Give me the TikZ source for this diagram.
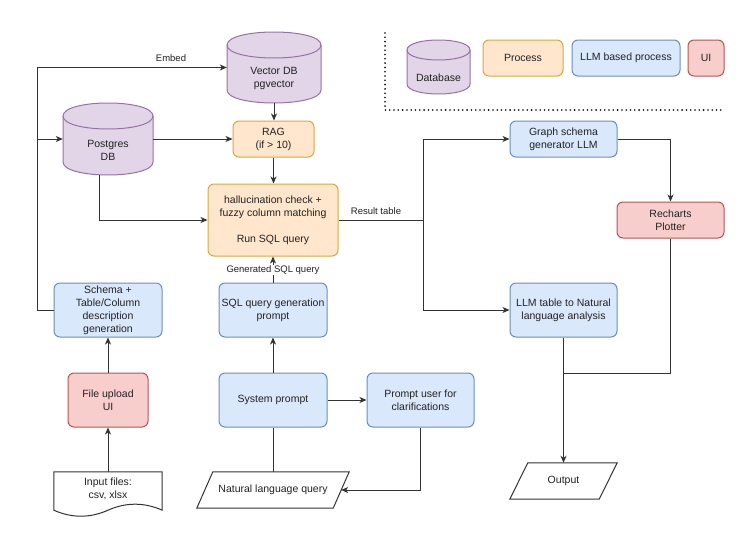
\documentclass[tikz,border=0pt]{standalone}
\usepackage{fontspec}
\setmainfont{Liberation Sans}
\usetikzlibrary{arrows.meta,calc}
\definecolor{dbfill}{HTML}{E1D5E7}\definecolor{dbline}{HTML}{9673A6}
\definecolor{prfill}{HTML}{FFE6CC}\definecolor{prline}{HTML}{DDA83A}
\definecolor{llmfill}{HTML}{DAE8FC}\definecolor{llmline}{HTML}{6C8EBF}
\definecolor{uifill}{HTML}{F8CECC}\definecolor{uiline}{HTML}{B85450}
\definecolor{txt}{HTML}{222222}\definecolor{wirec}{HTML}{333333}
\newcommand\dbcyl[5]{%
  \draw[dbst] (#1,#2+#5) -- (#1,#4-#5) .. controls (#1,#4+0.333*#5) and (#3,#4+0.333*#5) .. (#3,#4-#5) -- (#3,#2+#5) .. controls (#3,#2-0.333*#5) and (#1,#2-0.333*#5) .. cycle;
  \draw[dbst,fill=none] (#1,#2+#5) .. controls (#1,#2+2.333*#5) and (#3,#2+2.333*#5) .. (#3,#2+#5);
}
\begin{document}
\begin{tikzpicture}[x=1pt,y=-1pt,
  font=\fontsize{10.5}{13}\selectfont, text=txt,
  box/.style={draw, rounded corners=6pt, line width=1pt, align=center, inner sep=1pt},
  procb/.style={box, fill=prfill, draw=prline},
  llmb/.style={box, fill=llmfill, draw=llmline},
  uib/.style={box, fill=uifill, draw=uiline},
  ghost/.style={inner sep=0pt, draw=none, align=center},
  wire/.style={draw=wirec, line width=1pt},
  arr/.style={wire, -{Stealth[length=7pt,width=6pt,inset=2pt]}},
  lab/.style={font=\fontsize{9.5}{11}\selectfont, inner sep=1pt},
  dbst/.style={draw=dbline, fill=dbfill, line width=1pt},
  plain/.style={draw=wirec, fill=white, line width=1pt}]
\fill[white] (0,0) rectangle (756,538);
\useasboundingbox (0,0) rectangle (756,538);

% ---- legend
\draw[black, line width=1.8pt, line cap=round, dash pattern=on 0pt off 4.3pt] (385,33) -- (385,110) -- (723,110);
\dbcyl{407}{40}{470}{94}{10}
\node[ghost, minimum width=63pt, minimum height=54pt] (ldb) at (438.5,67) {};
\node[ghost] (ldbt) at (438.5,78) {Database};
\node[procb, minimum width=80pt, minimum height=36pt] (lp) at (523,58) {Process};
\node[llmb, minimum width=108pt, minimum height=36pt] (lllm) at (626,58) {LLM based process};
\node[uib, minimum width=36pt, minimum height=36pt] (lui) at (706,58) {UI};

% ---- databases
\dbcyl{227}{32}{321}{103}{13}
\node[ghost, minimum width=94pt, minimum height=71pt] (vdb) at (274,67.5) {};
\node[ghost] (vdbt) at (274,78.5) {Vector DB\\pgvector};
\dbcyl{63}{103}{153}{175}{13}
\node[ghost, minimum width=90pt, minimum height=72pt] (pg) at (108,139) {};
\node[ghost] (pgt) at (108,150.5) {Postgres\\DB};

% ---- process boxes
\node[procb, minimum width=81pt, minimum height=36pt] (rag) at (273.5,139) {RAG\\(if > 10)};
\node[procb, minimum width=130pt, minimum height=72pt] (hal) at (273,220) {hallucination check +\\fuzzy column matching\\[13pt]Run SQL query};
\node[llmb, minimum width=108pt, minimum height=54pt] (sqlp) at (273,310) {SQL query generation\\prompt};
\node[llmb, minimum width=108pt, minimum height=54pt] (sys) at (273,400) {System prompt};
\node[llmb, minimum width=107pt, minimum height=54pt] (pu) at (420.5,400) {Prompt user for\\clarifications};
\node[llmb, minimum width=108pt, minimum height=54pt] (sch) at (108,310) {Schema +\\Table/Column\\description\\generation};
\node[uib, minimum width=80pt, minimum height=54pt] (fu) at (108,400) {File upload\\UI};
\node[llmb, minimum width=107pt, minimum height=36pt] (gs) at (563.5,139) {Graph schema\\generator LLM};
\node[uib, minimum width=107pt, minimum height=36pt] (rc) at (670.5,220) {Recharts\\Plotter};
\node[llmb, minimum width=107pt, minimum height=54pt] (lt) at (563.5,310) {LLM table to Natural\\language analysis};

% ---- natural language query (parallelogram)
\node[ghost, minimum width=136pt, minimum height=36pt] (nlq) at (273,490) {};
\draw[plain] ($(nlq.north west)+(8,0)$) -- ($(nlq.north east)+(8,0)$) -- ($(nlq.south east)+(-8,0)$) -- ($(nlq.south west)+(-8,0)$) -- cycle;
\node[ghost] (nlqt) at (273,490) {Natural language query};

% ---- output (parallelogram)
\node[ghost, minimum width=89pt, minimum height=36pt] (out) at (563.5,481) {};
\draw[plain] ($(out.north west)+(9,0)$) -- ($(out.north east)+(9,0)$) -- ($(out.south east)+(-9,0)$) -- ($(out.south west)+(-9,0)$) -- cycle;
\node[ghost] (outt) at (563.5,481) {Output};

% ---- input files (document)
\node[ghost, minimum width=108pt, minimum height=38pt] (inp) at (108,491) {};
\draw[plain] (inp.north west) -- (inp.north east) -- (inp.south east) .. controls ($(inp.south east)+(-18,-8)$) and ($(inp.south)+(18,-8)$) .. (inp.south) .. controls ($(inp.south)+(-18,8)$) and ($(inp.south west)+(18,8)$) .. (inp.south west) -- cycle;
\node[ghost] (inpt) at (108,489) {Input files:\\csv, xlsx};

% ---- connectors
\coordinate (lx) at (37,0);
\draw[arr] (sch.west) -- (sch.west -| lx) |- (vdb.west);
\node[lab] (embed) at (171,58) {Embed};
\draw[arr] (lx |- pg) -- (pg.west);
\draw[arr] (pg.east) -- (rag.west);
\draw[arr] (vdb.south) -- (vdb.south |- rag.north);
\draw[arr] (rag.south) -- (rag.south |- hal.north);
\draw[arr] ($(pg.south)+(-9,0)$) |- (hal.west);
\coordinate (rt) at (423,220);
\draw[wire] (hal.east) -- (rt);
\node[lab] (restab) at (376,211) {Result table};
\draw[arr] (rt) |- (gs.west);
\draw[arr] (rt) |- (lt.west);
\draw[arr] (gs.east) -| (rc.north);
\coordinate (j) at (563.5,373);
\draw[wire] (rc.south) |- (j);
\draw[arr] (lt.south) -- (out.north);
\draw[arr] (sqlp.north) -- (hal.south);
\node[lab, fill=white] (gsql) at (273,270) {Generated SQL query};
\draw[arr] (sys.north) -- (sqlp.south);
\draw[arr] (sys.east) -- (pu.west);
\draw[arr] (pu.south) |- (nlq.east);
\draw[wire] (sys.south) -- (nlq.north);
\draw[arr] (inp.north) -- (fu.south);
\draw[arr] (fu.north) -- (sch.south);
\end{tikzpicture}
\end{document}
